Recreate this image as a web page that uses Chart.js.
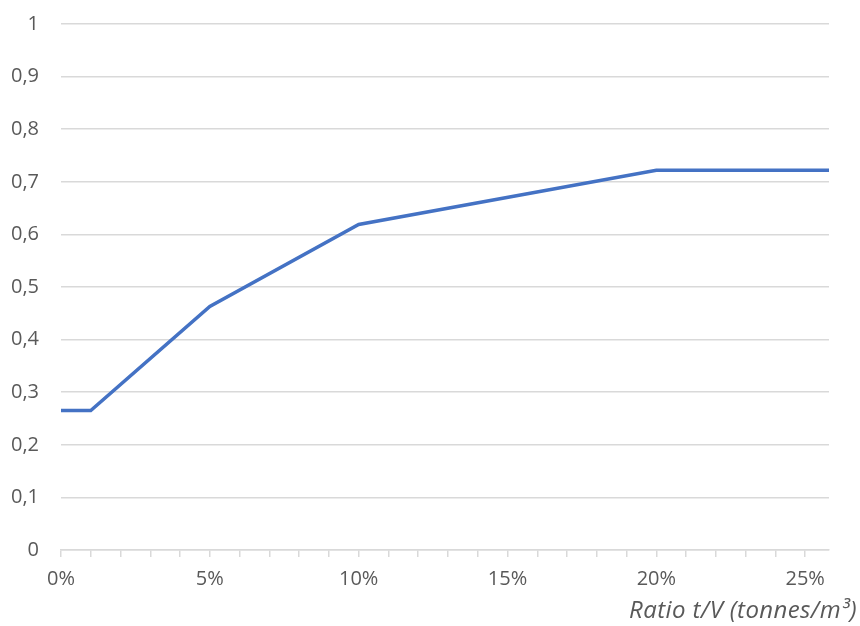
<!DOCTYPE html>
<html>
<head>
<meta charset="utf-8">
<script src="https://cdn.jsdelivr.net/npm/chart.js@4.4.1/dist/chart.umd.min.js"></script>
<style>
  html, body { margin: 0; padding: 0; background: #fff; }
  #wrap { position: relative; width: 860px; height: 626px; }
</style>
</head>
<body>
<div id="wrap"><canvas id="chart" width="860" height="626"></canvas></div>
<script>
// ───── DATA ─────
const RATIO  = [0, 0.01, 0.05, 0.10, 0.20, 0.258];     // t/V (fraction)
const VALEUR = [0.265, 0.265, 0.463, 0.619, 0.722, 0.722];
const X_MAX  = 0.258;
const Y_TICKS = [0, 0.1, 0.2, 0.3, 0.4, 0.5, 0.6, 0.7, 0.8, 0.9, 1];
const X_TITLE = "Ratio t/V (tonnes/m³)";

const FONT   = "'Open Sans', 'Liberation Sans', sans-serif";
const GRIS   = "#595959";
const GRILLE = "#d9d9d9";

// titre de l'axe X, aligné à droite comme dans Excel
const titreX = {
    id: "titreX",
    afterDraw(chart) {
        const c = chart.ctx;
        c.save();
        c.font = "italic 24px " + FONT;
        c.letterSpacing = "0.4px";
        c.fillStyle = GRIS;
        c.textAlign = "right";
        c.textBaseline = "alphabetic";
        c.fillText(X_TITLE, 857, 618);
        c.restore();
    }
};

new Chart(document.getElementById("chart").getContext("2d"), {
    type: "line",
    data: {
        datasets: [{
            data: RATIO.map((x, i) => ({ x, y: VALEUR[i] })),
            borderColor: "#4472c4",
            borderWidth: 3.5,
            pointRadius: 0,
            tension: 0,
        }]
    },
    options: {
        responsive: false, animation: false,
        layout: { padding: { top: 24, right: 31, bottom: 0, left: 0 } },
        plugins: { legend: { display: false }, tooltip: { enabled: false } },
        scales: {
            x: {
                type: "linear", min: 0, max: X_MAX,
                afterBuildTicks: s => { s.ticks = []; for (let k = 0; k <= 25; k++) s.ticks.push({ value: k / 100 }); },
                afterFit: s => { s.height = 76; s.paddingLeft = 0; s.paddingRight = 0; },
                grid: { drawOnChartArea: false, color: GRILLE, tickLength: 7, lineWidth: 1.5 },
                border: { color: GRILLE, width: 1.5 },
                ticks: {
                    color: GRIS, font: { family: FONT, size: 20 }, padding: 10,
                    maxRotation: 0, autoSkip: false,
                    callback: v => (Math.round(v * 100) % 5 === 0 ? Math.round(v * 100) + "%" : "")
                }
            },
            y: {
                min: 0, max: 1,
                afterBuildTicks: s => { s.ticks = Y_TICKS.map(v => ({ value: v })); },
                afterFit: s => { s.width = 61; s.paddingTop = 0; s.paddingBottom = 0; },
                grid: { color: GRILLE, lineWidth: 1.5, drawTicks: false },
                border: { display: false },
                ticks: {
                    color: GRIS, font: { family: FONT, size: 20 }, padding: 22,
                    callback: v => String(Math.round(v * 10) / 10).replace(".", ",")
                }
            }
        }
    },
    plugins: [titreX]
});
</script>
</body>
</html>
